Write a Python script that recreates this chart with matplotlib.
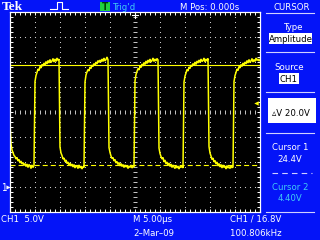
import numpy as np
import matplotlib
matplotlib.use("Agg")
import matplotlib.pyplot as plt
from matplotlib.patches import Rectangle
from matplotlib import font_manager as fm

volts_per_div = 5.0
time_per_div_us = 5.0
sample_interval_us = 0.2          # one display sample per screen column
start_time_us = -25.0
cursor1_v = 24.4
cursor2_v = 4.40
trigger_level_v = 16.8

edge0 = [13.0]
low0 = [8.6, 7.4, 6.9, 6.3, 6.1, 5.6, 5.9, 5.2, 5.5, 4.8, 5.2, 4.6, 4.9, 4.3, 4.7, 4.1,
        4.6, 3.9, 4.5, 4.2, 3.7, 4.4, 3.9, 4.3]
high1 = [21.1, 22.3, 22.9, 23.6, 23.3, 24.1, 23.8, 24.5, 24.2, 24.8, 24.4, 25.1, 24.6,
         25.3, 24.8, 25.5, 24.9, 25.2, 25.7, 25.0, 25.6, 25.1, 25.8, 25.3, 25.6]
low1 = [8.0, 6.8, 6.3, 5.6, 5.8, 5.1, 5.4, 4.7, 5.0, 4.4, 4.8, 4.2, 4.6, 4.0, 4.5, 3.8,
        4.3, 4.1, 3.7, 4.4, 3.8, 4.2, 3.6, 4.1, 3.9]
high2 = [21.0, 22.4, 23.0, 23.5, 23.2, 24.0, 23.7, 24.4, 24.1, 24.7, 24.3, 25.0, 24.6,
         25.3, 24.9, 25.4, 25.0, 25.6, 25.1, 25.8, 25.2, 25.5, 26.0, 25.4]
low2 = [7.9, 6.9, 6.2, 5.7, 5.9, 5.2, 5.5, 4.8, 5.1, 4.5, 4.9, 4.2, 4.7, 4.1, 4.5, 3.9,
        4.4, 4.0, 4.3, 3.7, 4.2, 3.9, 4.4, 3.8, 4.1, 4.0]
high3 = [21.2, 22.5, 23.1, 23.7, 23.4, 24.2, 23.9, 24.6, 24.2, 24.9, 24.5, 25.2, 24.7,
         25.4, 24.9, 25.6, 25.0, 25.3, 25.8, 25.1, 25.6, 25.2, 25.7, 25.4]
low3 = [7.8, 6.7, 6.1, 5.6, 5.9, 5.0, 5.4, 4.6, 5.0, 4.3, 4.8, 4.1, 4.6, 3.9, 4.4, 4.0,
        3.7, 4.3, 3.8, 4.2, 3.6, 4.1, 3.9, 4.3, 3.8]
high4 = [21.0, 22.2, 22.8, 23.5, 23.2, 24.0, 23.7, 24.4, 24.1, 24.7, 24.3, 25.0, 24.5,
         25.2, 24.8, 25.4, 24.9, 25.6, 25.1, 25.3, 25.8, 25.0, 25.6, 25.2, 25.7]
low4 = [8.1, 6.8, 6.2, 5.5, 5.8, 5.0, 5.3, 4.6, 5.0, 4.2, 4.7, 4.0, 4.5, 3.8, 4.4, 3.9,
        4.2, 3.6, 4.3, 3.8, 4.1, 3.7, 4.2, 3.9, 4.0]
high5 = [21.1, 22.3, 22.9, 23.6, 23.3, 24.1, 23.8, 24.5, 24.1, 24.8, 24.4, 25.0, 24.6,
         25.3, 24.8, 25.5, 24.9, 25.2, 25.7, 25.0, 25.5, 25.1, 25.8, 25.3, 25.6, 25.2, 25.5]

ch1_v = np.array(edge0 + low0 + high1 + low1 + high2 + low2 + high3 + low3
                 + high4 + low4 + high5)
t_us = start_time_us + sample_interval_us * np.arange(len(ch1_v))

# ---------------- fonts ----------------
names = {f.name for f in fm.fontManager.ttflist}
STRETCH = "normal"
if "Liberation Sans Narrow" in names:
    SANS = ["Liberation Sans Narrow", "DejaVu Sans"]
    FS = 7.5
elif any(f.name == "DejaVu Sans" and str(f.stretch) in ("condensed", "semi-condensed")
         for f in fm.fontManager.ttflist):
    SANS = ["DejaVu Sans"]
    STRETCH = "condensed"
    FS = 6.8
else:
    SANS = ["Liberation Sans", "DejaVu Sans"]
    FS = 7.0

# ---------------- style ----------------
BLUE = "#0414f8"
YELLOW = "#ffff00"
GRID = "#c8c8c8"
WHITE = "#ffffff"
CYAN = "#40ccf4"
LINEC = "#d0d0ff"
plt.rcParams["lines.scale_dashes"] = False

W, H = 320, 240
fig = plt.figure(figsize=(W / 100, H / 100), dpi=100)
fig.patch.set_facecolor(BLUE)

# overlay in pixel coordinates for the UI chrome
ov = fig.add_axes([0, 0, 1, 1])
ov.set_xlim(0, W)
ov.set_ylim(H, 0)
ov.axis("off")
ov.patch.set_alpha(0)


def txt(x, y, s, color=WHITE, ha="left", size=None, **kw):
    fam = kw.pop("family", SANS)
    st = kw.pop("stretch", STRETCH)
    ov.text(x, y, s, color=color, ha=ha, va="baseline",
            fontsize=FS if size is None else size, family=fam, stretch=st, **kw)


# top bar
txt(2, 10, "Tek", family=["Liberation Serif", "DejaVu Serif"], size=9.6,
    weight="bold", stretch="normal")
ov.plot([50, 55, 57, 57, 62, 62, 64, 68], [9, 9, 9, 2, 2, 9, 9, 9], color=WHITE, lw=0.8)
ov.add_patch(Rectangle((100, 1.5), 9.5, 9.5, facecolor="#20d040", edgecolor="none"))
txt(104.8, 10, "T", color="#004000", ha="center", size=7.2, weight="bold")
txt(113, 10, "Trig'd", color=CYAN)
txt(180, 10, "M Pos: 0.000s")
txt(292, 10, "CURSOR", ha="center")

# right menu panel
for yl in (12.5, 52, 92, 132.5, 212):
    ov.plot([266, 314], [yl, yl], color=LINEC, lw=0.8)
ov.plot([272, 312], [173, 173], color=LINEC, lw=0.8, ls=(0, (4, 3)))
txt(294, 30, "Type", ha="center")
ov.add_patch(Rectangle((269, 33), 43, 11, facecolor=WHITE, edgecolor="none"))
txt(290.5, 42, "Amplitude", color="black", ha="center")
txt(289, 70, "Source", ha="center")
ov.add_patch(Rectangle((279, 73), 20, 10.5, facecolor=WHITE, edgecolor="none"))
txt(289, 82, "CH1", color="black", ha="center")
ov.add_patch(Rectangle((268, 98), 48, 25, facecolor=WHITE, edgecolor="none"))
txt(291, 116, "\u25b5V 20.0V", color="black", ha="center",
    family=SANS + ["DejaVu Sans"])
txt(290, 150, "Cursor 1", ha="center")
txt(289.5, 162, f"{cursor1_v:.1f}V", ha="center")
txt(290, 190, "Cursor 2", color=CYAN, ha="center")
txt(289.5, 201, f"{cursor2_v:.2f}V", color=CYAN, ha="center")

# bottom bar
txt(1, 222, f"CH1  {volts_per_div:.1f}V")
txt(133, 222, f"M {time_per_div_us:.2f}\u00b5s")
txt(230, 222, f"CH1 / {trigger_level_v:.1f}V")
txt(133, 236, "2\u2013Mar\u201309")
txt(230, 236, "100.806kHz")

# ground marker
txt(1, 191, "1", size=7)
ov.plot([7.5], [187], marker=">", ms=3, color=WHITE, mew=0)

# ---------------- scope screen ----------------
ax = fig.add_axes([10 / W, 1 - 212 / H, 250 / W, 200 / H])
ax.set_facecolor("black")
ax.set_xlim(-5 * time_per_div_us, 5 * time_per_div_us)
ax.set_ylim(-1 * volts_per_div, 7 * volts_per_div)
for s in ax.spines.values():
    s.set_color(WHITE)
    s.set_linewidth(0.9)
ax.set_xticks(np.arange(-25, 25.1, 1))
ax.set_yticks(np.arange(-5, 35.1, 1))
ax.tick_params(direction="in", length=2.0, width=0.7, color=WHITE,
               top=True, right=True, labelbottom=False, labelleft=False)

# dotted graticule
dots = np.arange(-25, 25.1, 1)
vdots = np.arange(-5, 35.1, 1)
for gx in (-20, -15, -10, -5, 5, 10, 15, 20):
    ax.plot(np.full_like(vdots, gx), vdots, ls="none", marker="s", ms=0.75,
            color=GRID, mew=0)
for gy in (0, 5, 10, 20, 25, 30):
    ax.plot(dots, np.full_like(dots, gy), ls="none", marker="s", ms=0.75,
            color=GRID, mew=0)
# centre cross with tick marks
ax.plot(dots, np.full_like(dots, 15), ls="none", marker="|", ms=2.6, mew=0.7, color=GRID)
ax.plot(np.zeros_like(vdots), vdots, ls="none", marker="_", ms=2.6, mew=0.7, color=GRID)

# cursors
ax.axhline(cursor1_v, color=YELLOW, lw=0.8)
ax.axhline(cursor2_v, color=YELLOW, lw=0.8, ls=(0, (3.6, 2.2)))

# trace
ax.plot(t_us, ch1_v, color=YELLOW, lw=1.1, solid_joinstyle="miter")

# trigger level marker and trigger position marker
ax.plot([24.1], [trigger_level_v], marker="<", ms=3.2, color=YELLOW, mew=0)
ax.plot([-0.6, 0.6], [34.4, 34.4], color=WHITE, lw=0.8, clip_on=False)
ax.plot([0, 0], [35, 33.8], color=WHITE, lw=0.8, clip_on=False)

fig.savefig("out.png", dpi=100, facecolor=fig.get_facecolor())
